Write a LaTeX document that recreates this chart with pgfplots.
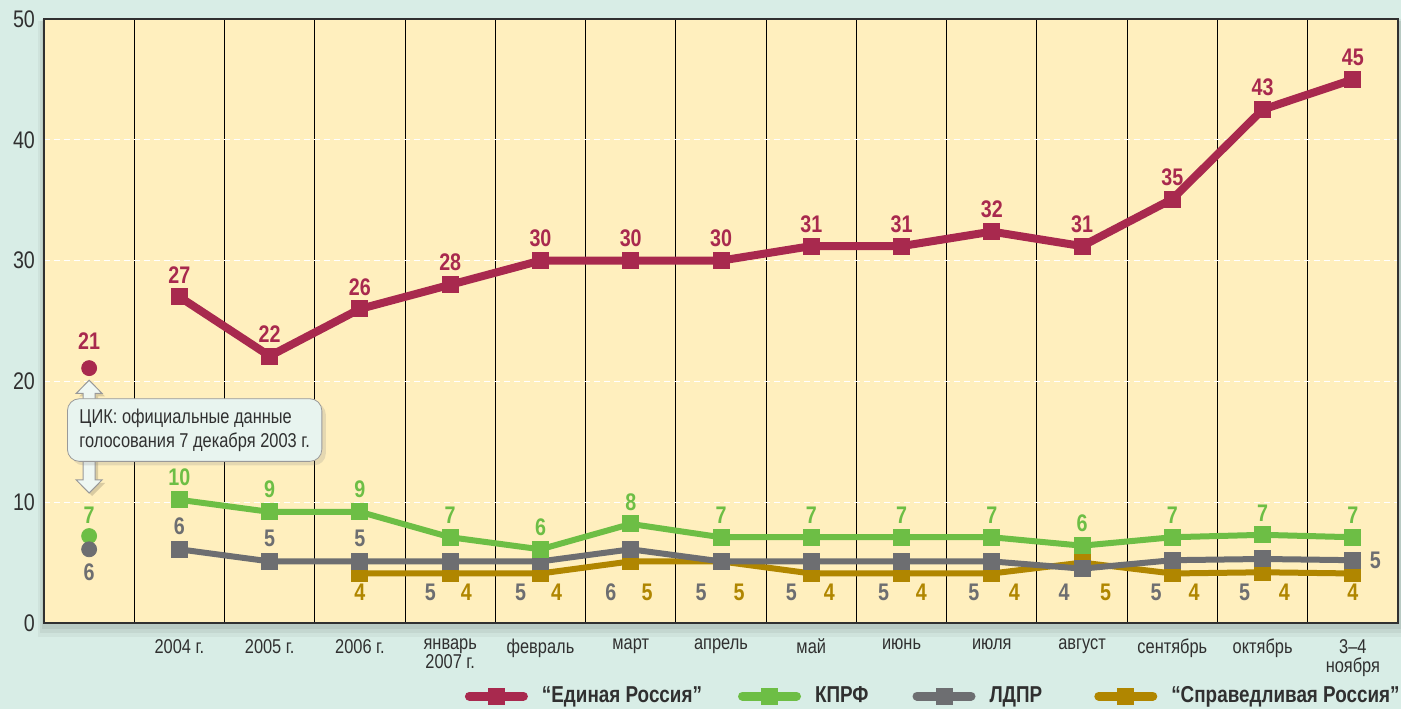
\documentclass[border=0pt]{standalone}
\usepackage{pgfplots}
\pgfplotsset{compat=1.18}
\usepackage{pgfplotstable}
\usepackage{fontspec}
\setmainfont{Liberation Sans}[FakeStretch=0.82]
\usetikzlibrary{shadows}
\definecolor{bgteal}{HTML}{D8EDE6}
\definecolor{plotbg}{HTML}{FFEFBE}
\definecolor{er}{HTML}{A8294E}
\definecolor{kprf}{HTML}{6DBE45}
\definecolor{ldpr}{HTML}{6D6E71}
\definecolor{sr}{HTML}{B08600}
\definecolor{txt}{HTML}{303030}
\definecolor{callbg}{HTML}{E8F4EF}
\definecolor{arrowbg}{HTML}{EEF7F3}

\pgfplotstableread{
x y l
1 27.0 27
2 22.1 22
3 26.0 26
4 28.0 28
5 30.0 30
6 30.0 30
7 30.0 30
8 31.2 31
9 31.2 31
10 32.4 32
11 31.2 31
12 35.1 35
13 42.5 43
14 45.0 45
}\erdata
\pgfplotstableread{
x y l
1 10.2 10
2 9.2 9
3 9.2 9
4 7.1 7
5 6.1 6
6 8.2 8
7 7.1 7
8 7.1 7
9 7.1 7
10 7.1 7
11 6.4 6
12 7.1 7
13 7.3 7
14 7.1 7
}\kprfdata
\pgfplotstableread{
x y
1 6.1
2 5.1
3 5.1
4 5.1
5 5.1
6 6.1
7 5.1
8 5.1
9 5.1
10 5.1
11 4.5
12 5.2
13 5.3
14 5.2
}\ldprdata
\pgfplotstableread{
x y
3 4.1
4 4.1
5 4.1
6 5.1
7 5.1
8 4.1
9 4.1
10 4.1
11 5.0
12 4.1
13 4.2
14 4.1
}\srdata

\tikzset{
  lbl/.style={font=\bfseries\fontsize{12}{12}\selectfont},
  erstyle/.style={er, line width=4pt, line join=round, line cap=round, mark=square*, mark size=4pt, mark options={solid, line width=0pt, fill=er, draw=er}},
  kpstyle/.style={kprf, line width=3pt, line join=round, line cap=round, mark=square*, mark size=4pt, mark options={solid, line width=0pt, fill=kprf, draw=kprf}},
  ldstyle/.style={ldpr, line width=3pt, line join=round, line cap=round, mark=square*, mark size=4pt, mark options={solid, line width=0pt, fill=ldpr, draw=ldpr}},
  srstyle/.style={sr, line width=3pt, line join=round, line cap=round, mark=square*, mark size=4pt, mark options={solid, line width=0pt, fill=sr, draw=sr}},
}

\begin{document}
\begin{tikzpicture}
\fill[bgteal] (0,0) rectangle (700.5pt,354.5pt);
\useasboundingbox (0,0) rectangle (700.5pt,354.5pt);
% shadow of plot area
\fill[black, opacity=0.04] (19pt,36pt) rectangle (703pt,344pt);
\fill[black, opacity=0.05] (20pt,38pt) rectangle (702pt,344pt);
\fill[black, opacity=0.06] (21pt,40pt) rectangle (701pt,345pt);
\begin{axis}[
  at={(22pt,43pt)}, anchor=south west,
  scale only axis, width=677pt, height=302pt,
  xmin=-0.5, xmax=14.5, ymin=0, ymax=50,
  axis background/.style={fill=plotbg},
  axis line style={draw=txt, line width=1pt},
  xtick={1,...,14},
  xticklabels={2004 г., 2005 г., 2006 г., {январь\\2007 г.}, февраль, март, апрель, май, июнь, июля, август, сентябрь, октябрь, {3–4\\ноября}},
  xticklabel style={align=center, font=\fontsize{10}{9.5}\selectfont, text=txt, anchor=north, yshift=-4.5pt},
  major tick length=0pt, minor tick length=0pt,
  minor xtick={0.5,1.5,...,13.5},
  xminorgrids, minor x grid style={black, line width=0.5pt},
  ytick={0,10,...,50},
  ymajorgrids, y grid style={white, dash pattern=on 3pt off 2pt, line width=0.6pt},
  yticklabel style={font=\fontsize{12}{12}\selectfont, text=txt, xshift=-1pt},
  /pgf/number format/assume math mode=true,
  clip=false,
  legend columns=4,
  legend style={at={(1.0,-0.098)}, anchor=north east, draw=none, fill=none, inner sep=0pt,
    xshift=3pt,
    font=\bfseries\fontsize{11.5}{11.5}\selectfont, text=txt,
    /tikz/every odd column/.append style={column sep=5pt},
    /tikz/every even column/.append style={column sep=0pt}},
  legend image code/.code={
    \draw[mark repeat=2, mark phase=2, #1, line width=4.5pt] plot coordinates {(0pt,0pt) (13.5pt,0pt) (27pt,0pt)};
  },
]
\addlegendimage{erstyle}
\addlegendentry{“Единая Россия”\rule{16pt}{0pt}}
\addlegendimage{kpstyle}
\addlegendentry{КПРФ\rule{20pt}{0pt}}
\addlegendimage{ldstyle}
\addlegendentry{ЛДПР\rule{24pt}{0pt}}
\addlegendimage{srstyle}
\addlegendentry{“Справедливая Россия”}

\addplot[srstyle, forget plot] table[x=x, y=y] {\srdata};
\addplot[ldstyle, forget plot] table[x=x, y=y] {\ldprdata};
\addplot[kpstyle, forget plot, nodes near coords, point meta=explicit symbolic,
  nodes near coords style={lbl, text=kprf, anchor=south, yshift=3.5pt}] table[x=x, y=y, meta=l] {\kprfdata};
\addplot[erstyle, forget plot, nodes near coords, point meta=explicit symbolic,
  nodes near coords style={lbl, text=er, anchor=south, yshift=3.5pt}] table[x=x, y=y, meta=l] {\erdata};

% 2003 official results (dots)
\addplot[only marks, mark=*, mark size=3.75pt, kprf, forget plot] coordinates {(0,7.2)};
\addplot[only marks, mark=*, mark size=3.75pt, ldpr, forget plot] coordinates {(0,6.1)};
\addplot[only marks, mark=*, mark size=3.75pt, er, forget plot] coordinates {(0,21.1)};
\node[lbl, text=er] at (axis cs:0,23.3) {21};
\node[lbl, text=kprf] at (axis cs:0,8.94) {7};
\node[lbl, text=ldpr] at (axis cs:0,4.2) {6};

% LDPR labels
\node[lbl, text=ldpr] at (axis cs:1,8.0) {6};
\node[lbl, text=ldpr] at (axis cs:2,7.0) {5};
\node[lbl, text=ldpr] at (axis cs:3,7.0) {5};
\node[lbl, text=ldpr] at (axis cs:3.78,2.57) {5};
\node[lbl, text=ldpr] at (axis cs:4.78,2.57) {5};
\node[lbl, text=ldpr] at (axis cs:5.78,2.57) {6};
\node[lbl, text=ldpr] at (axis cs:6.78,2.57) {5};
\node[lbl, text=ldpr] at (axis cs:7.78,2.57) {5};
\node[lbl, text=ldpr] at (axis cs:8.80,2.57) {5};
\node[lbl, text=ldpr] at (axis cs:9.80,2.57) {5};
\node[lbl, text=ldpr] at (axis cs:10.80,2.57) {4};
\node[lbl, text=ldpr] at (axis cs:11.82,2.57) {5};
\node[lbl, text=ldpr] at (axis cs:12.80,2.57) {5};
\node[lbl, text=ldpr] at (axis cs:14.25,5.2) {5};
% SR labels
\node[lbl, text=sr] at (axis cs:3,2.57) {4};
\node[lbl, text=sr] at (axis cs:4.18,2.57) {4};
\node[lbl, text=sr] at (axis cs:5.18,2.57) {4};
\node[lbl, text=sr] at (axis cs:6.18,2.57) {5};
\node[lbl, text=sr] at (axis cs:7.2,2.57) {5};
\node[lbl, text=sr] at (axis cs:8.2,2.57) {4};
\node[lbl, text=sr] at (axis cs:9.22,2.57) {4};
\node[lbl, text=sr] at (axis cs:10.25,2.57) {4};
\node[lbl, text=sr] at (axis cs:11.26,2.57) {5};
\node[lbl, text=sr] at (axis cs:12.24,2.57) {4};
\node[lbl, text=sr] at (axis cs:13.24,2.57) {4};
\node[lbl, text=sr] at (axis cs:14,2.57) {4};

% callout: double arrow
\fill[black, opacity=0.15, xshift=1.5pt, yshift=-1.5pt]
  (axis cs:0,20.1) -- ([xshift=6.5pt]axis cs:0,19.0) -- ([xshift=3pt]axis cs:0,19.0)
  -- ([xshift=3pt]axis cs:0,11.85) -- ([xshift=6.5pt]axis cs:0,11.85) -- (axis cs:0,10.76)
  -- ([xshift=-6.5pt]axis cs:0,11.85) -- ([xshift=-3pt]axis cs:0,11.85)
  -- ([xshift=-3pt]axis cs:0,19.0) -- ([xshift=-6.5pt]axis cs:0,19.0) -- cycle;
\draw[gray!80, fill=arrowbg, line width=0.5pt, line join=miter]
  (axis cs:0,20.1) -- ([xshift=6.5pt]axis cs:0,19.0) -- ([xshift=3pt]axis cs:0,19.0)
  -- ([xshift=3pt]axis cs:0,11.85) -- ([xshift=6.5pt]axis cs:0,11.85) -- (axis cs:0,10.76)
  -- ([xshift=-6.5pt]axis cs:0,11.85) -- ([xshift=-3pt]axis cs:0,11.85)
  -- ([xshift=-3pt]axis cs:0,19.0) -- ([xshift=-6.5pt]axis cs:0,19.0) -- cycle;
\node[draw=gray!80, fill=callbg, rounded corners=6pt, align=left, anchor=north west,
  inner xsep=6pt, inner ysep=5pt, text=txt, font=\fontsize{10}{12}\selectfont,
  drop shadow={opacity=0.2, shadow xshift=2pt, shadow yshift=-2pt}]
  at (axis cs:-0.245,18.6) {ЦИК: официальные данные\\голосования 7 декабря 2003 г.};
\end{axis}
\end{tikzpicture}
\end{document}
